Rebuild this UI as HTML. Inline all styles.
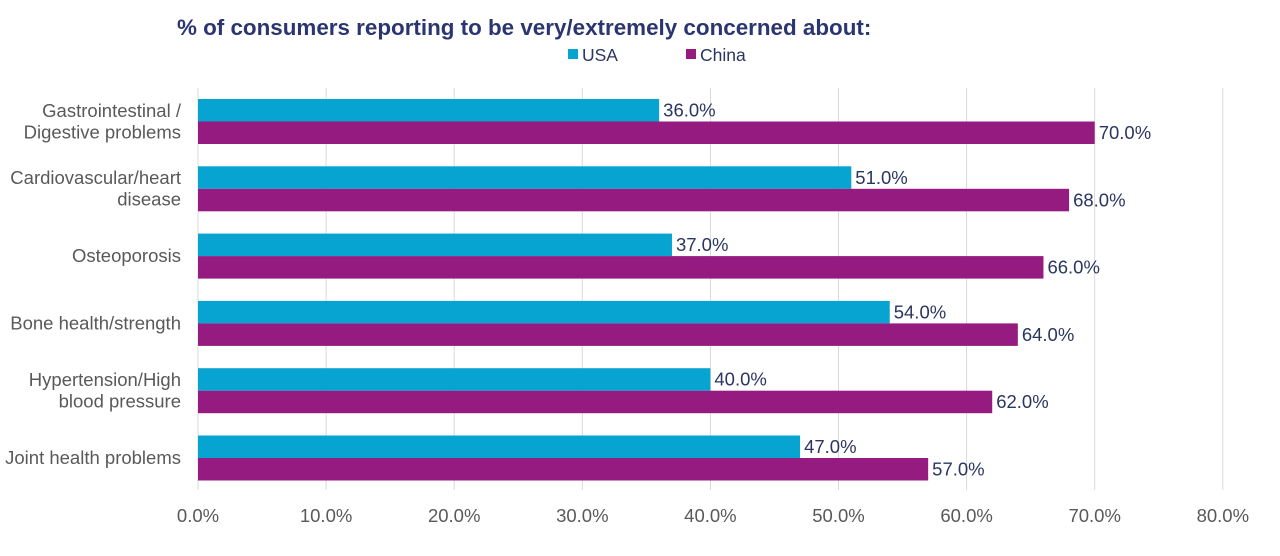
<!DOCTYPE html>
<html><head><meta charset="utf-8"><style>
body{margin:0;background:#fff;width:1280px;height:551px;overflow:hidden;font-family:"Liberation Sans",sans-serif}
</style></head><body>
<svg id="c" width="1280" height="551">
<text x="177" y="35" font-size="22.4" font-weight="bold" fill="#2b3670">% of consumers reporting to be very/extremely concerned about:</text>
<g>
<rect x="568" y="49" width="10" height="10" fill="#07a3d1"/>
<text x="582" y="61" font-size="17.5" fill="#2b3561">USA</text>
<rect x="686" y="49" width="10" height="10" fill="#961b80"/>
<text x="700" y="61" font-size="17.5" fill="#2b3561">China</text>
</g>
<g id="grid"></g><g id="bars"></g><g id="labels"></g>
</svg>
<script>
const categories=[["Gastrointestinal /","Digestive problems"],["Cardiovascular/heart","disease"],["Osteoporosis"],["Bone health/strength"],["Hypertension/High","blood pressure"],["Joint health problems"]];
const usaValues=[36,51,37,54,40,47];
const chinaValues=[70,68,66,64,62,57];
const ticks=[0,10,20,30,40,50,60,70,80];
const NS="http://www.w3.org/2000/svg";
const x0=198,scale=12.81,top0=99,step=67.3,bh=22.5;
const X=v=>x0+v*scale;
function mk(tag,attrs,parent,txt){const e=document.createElementNS(NS,tag);for(const k in attrs)e.setAttribute(k,attrs[k]);if(txt!=null)e.textContent=txt;document.getElementById(parent).appendChild(e);return e;}
ticks.forEach(t=>{
 const l=mk('line',{x1:X(t),x2:X(t),y1:88,y2:490,stroke:'#d9d9d9','stroke-width':1},'grid');
 
 
 const tx=mk('text',{x:X(t),y:522,'font-size':18.5,fill:'#595959','text-anchor':'middle'},'grid',t.toFixed(1)+'%');
 
 
});
categories.forEach((c,i)=>{
 const y=top0+i*step;
 const series=[[usaValues[i],'#07a3d1','usa'],[chinaValues[i],'#961b80','china']];
 series.forEach((s,j)=>{
  const yy=y+j*bh;
  const r=mk('rect',{x:x0,y:yy,width:X(s[0])-x0,height:bh,fill:s[1]},'bars');
  
  
  const v=mk('text',{x:X(s[0])+4,y:yy+17.5,'font-size':18.5,fill:'#2b3561'},'labels',s[0].toFixed(1)+'%');
  
  
 });
 const cy=y+bh;
 c.forEach((ln,k)=>{
  const t=mk('text',{x:181,y:cy+6+(k-(c.length-1)/2)*21.5,'font-size':18.5,fill:'#595959','text-anchor':'end'},'labels',ln);
  
  
 });
});
</script>
</body></html>
